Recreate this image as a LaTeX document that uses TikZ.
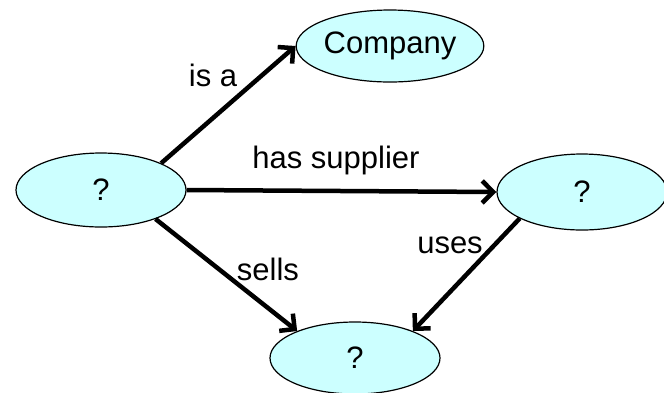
\documentclass[tikz,border=0pt]{standalone}
\usepackage{fontspec}
\setmainfont{Liberation Sans}
\usetikzlibrary{shapes.geometric,arrows.meta}
\definecolor{conceptfill}{RGB}{204,255,255}
\begin{document}
\begin{tikzpicture}[x=1pt,y=-1pt,
  concept/.style={ellipse, draw=black, line width=1.2pt, fill=conceptfill,
    inner sep=0pt, minimum width=170pt, minimum height=74pt,
    font=\fontsize{31}{36}\selectfont},
  relation/.style={line width=4.5pt, -{Straight Barb[length=11pt,width=22pt,line width=4.5pt]}},
  rellabel/.style={inner sep=0pt, anchor=base, font=\fontsize{31}{36}\selectfont}]
  \useasboundingbox (0,0) rectangle (664,392);

  % concepts
  \node[concept, minimum width=168pt, minimum height=72pt] (company) at (390,46) {Company};
  \node[concept] (subject) at (101,190) {?};
  \node[concept, minimum height=76pt] (supplier) at (582,192) {?};
  \node[concept, minimum height=72pt] (product) at (355,358) {?};

  % relations
  \draw[relation] (subject.24) -- (company.west);
  \draw[relation] (subject.east) -- (supplier.west);
  \draw[relation] (subject.-28) -- (product.155);
  \draw[relation] (supplier.203) -- (product.25);

  % relation names
  \node[rellabel] (lisa) at (213,86) {is a};
  \node[rellabel] (lsupplier) at (336,168) {has supplier};
  \node[rellabel] (lsells) at (268,280) {sells};
  \node[rellabel] (luses) at (450,253) {uses};
\end{tikzpicture}
\end{document}
